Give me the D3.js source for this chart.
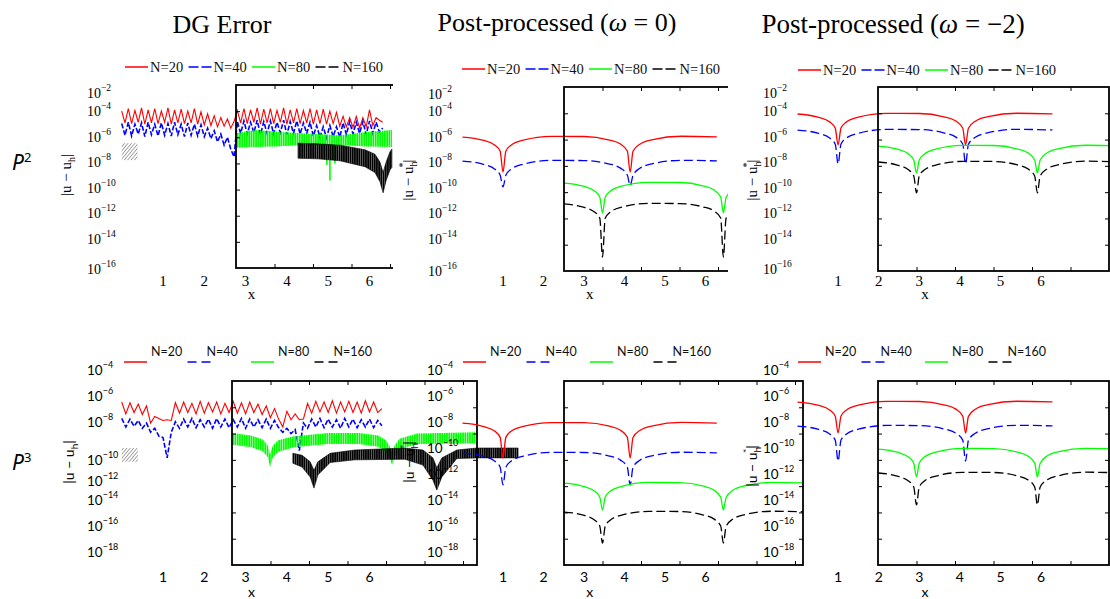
<!DOCTYPE html>
<html>
<head>
<meta charset="utf-8">
<script src="https://cdn.jsdelivr.net/npm/d3@7"></script>
<style>
  body { margin: 0; background: #fff; }
  svg { display: block; }
  .serif { font-family: "Liberation Serif", "Times New Roman", serif; }
  .sans { font-family: Lato, "Open Sans", sans-serif; }
</style>
</head>
<body>
<svg id="fig" width="1110" height="599"></svg>
<script>
// ---- data ----
const seriesNames = ["N=20", "N=40", "N=80", "N=160"];
const seriesColors = ["#ff0000", "#0000ff", "#00ff00", "#000000"];
const panelTitles = ["DG Error", "Post-processed (", "Post-processed ("];
const omegaValues = ["0", "−2"];
const xTicks = [1, 2, 3, 4, 5, 6];
const yTicksTop = [-2, -4, -6, -8, -10, -12, -14, -16];
const yTicksBottom = [-4, -6, -8, -10, -12, -14, -16, -18];

// DG error, P2 (values are log10 of the error)
const dgP2Grid = [0,0.08,0.16,0.24,0.32,0.4,0.48,0.56,0.64,0.72,0.8,0.88,0.96,1.04,1.12,1.2,1.28,1.36,1.44,1.52,
  1.6,1.68,1.76,1.84,1.92,2,2.08,2.16,2.24,2.32,2.4,2.48,2.56,2.64,2.72,2.8,2.88,2.96,3.04,3.12,
  3.2,3.28,3.36,3.44,3.52,3.6,3.68,3.76,3.84,3.92,4,4.08,4.16,4.24,4.32,4.4,4.48,4.56,4.64,4.72,
  4.8,4.88,4.96,5.04,5.12,5.2,5.28,5.36,5.44,5.52,5.6,5.68,5.76,5.84,5.92,6,6.08,6.16,6.24,6.32];
const dgP2N20 = [-4.0,-4.9,-3.8,-4.95,-3.95,-4.85,-3.75,-5.0,-3.9,-4.9,-3.8,-4.95,-4.0,-4.85,-3.75,-5.0,-3.9,-4.9,-3.85,-4.95,
  -4.0,-4.9,-3.8,-5.0,-4.05,-5.05,-4.2,-5.1,-4.35,-5.2,-4.5,-5.15,-4.6,-5.3,-4.8,
  -3.95,-4.9,-3.8,-4.95,-3.9,-4.85,-3.75,-5.0,-3.85,-4.9,-3.8,-4.95,-3.95,-4.85,-3.75,-5.0,-3.9,-4.9,-3.8,-4.95,
  -3.95,-4.9,-3.8,-5.0,-3.9,-4.95,-3.85,-5.0,-4.0,-4.95,-4.1,
  -5.15,-4.4,-5.2,-4.5,-5.25,-4.4,-5.3,-4.5,-5.2,-3.9,-5.1,-4.5,-4.7,-4.85];
const dgP2N40 = [-4.95,-5.85,-4.85,-5.9,-5.0,-5.75,-4.9,-5.95,-4.85,-5.8,-5.0,-5.9,-4.9,-5.85,-4.95,-5.9,-4.85,-5.8,-5.0,-5.95,-4.9,-5.85,-5.0,-5.9,-5.05,
  -5.95,-5.3,-6.1,-5.5,-6.35,-5.75,-6.6,-6.0,-6.9,-7.5,
  -4.8,-5.7,-4.75,-5.75,-4.85,-5.65,-4.7,-5.8,-4.8,-5.7,-4.75,-5.75,-4.85,-5.65,-4.7,-5.8,-4.8,-5.7,-4.75,-5.75,-4.9,-5.7,-4.85,
  -5.9,-5.1,-6.0,-5.2,-6.05,-5.1,-5.95,-5.2,-6.0,
  -4.9,-5.8,-4.8,-5.75,-4.85,-5.7,-4.8,-5.8,-4.75,-5.7,-4.85,-5.6,-5.3];
// bands: [x, upper, lower]
const dgP2N80Band = [[0,-5.7,-6.8],[0.5,-5.45,-6.75],[1.0,-5.55,-6.7],[1.7,-5.7,-6.6],[2.7,-5.85,-6.6],[3.4,-5.6,-6.7],[4.05,-5.45,-6.75]];
const dgP2N80Spikes = [[2.36,-6.6,-8.1],[2.44,-6.6,-9.3],[2.57,-6.6,-8.0]];
const dgP2N160Band = [[1.61,-6.45,-7.6],[2.13,-6.5,-7.65],[2.7,-6.6,-7.8],[3.35,-6.95,-8.25],[3.61,-7.3,-8.7],
  [3.74,-7.9,-9.4],[3.82,-8.7,-10.25],[3.9,-7.9,-9.3],[4.0,-7.1,-8.5],[4.05,-6.9,-8.3]];
const dgP2Hatch = [[0,-6.45],[0.38,-7.75]];

// DG error, P3
const dgP3Grid = [0,0.1,0.2,0.3,0.4,0.5,0.6,0.7,0.8,0.9,1,1.1,1.2,1.3,1.4,1.5,1.6,1.7,1.8,1.9,
  2,2.1,2.2,2.3,2.4,2.5,2.6,2.7,2.8,2.9,3,3.1,3.2,3.3,3.4,3.5,3.6,3.7,3.8,3.9,
  4,4.1,4.2,4.3,4.4,4.5,4.6,4.7,4.8,4.9,5,5.1,5.2,5.3,5.4,5.5,5.6,5.7,5.8,5.9,6,6.1,6.2,6.3];
const dgP3N20 = [-5.6,-6.5,-5.65,-6.4,-5.75,-6.55,-5.9,-7.2,-6.7,-6.85,-7.0,-6.95,-7.0,
  -5.65,-6.45,-5.6,-6.4,-5.7,-6.5,-5.55,-6.45,-5.65,-6.35,-5.6,-6.5,-5.7,-6.4,-5.55,-6.45,-5.65,-6.5,-5.6,-6.4,-5.75,-6.55,
  -5.9,-6.8,-6.1,-6.9,-7.5,-6.3,-6.95,-6.5,-6.95,-6.9,
  -5.7,-6.45,-5.55,-6.35,-5.6,-6.4,-5.5,-6.45,-5.6,-6.35,-5.55,-6.4,-5.6,-6.45,-5.5,-6.35,-5.6,-6.4,-6.1];
const dgP3N40 = [-6.85,-7.5,-6.9,-7.45,-7.0,-7.6,-7.2,-7.9,-7.6,-8.2,-8.3,-9.85,-7.9,-7.1,
  -7.6,-6.9,-7.5,-6.85,-7.55,-6.95,-7.5,-6.9,-7.6,-6.85,-7.5,-6.9,-7.55,-6.95,-7.5,-6.85,-7.6,-6.9,-7.5,-6.95,-7.55,-6.9,-7.6,-7.0,-7.55,
  -7.9,-7.6,-8.0,-7.7,-9.3,-7.2,-7.6,
  -6.9,-7.5,-6.85,-7.55,-6.9,-7.5,-6.95,-7.6,-6.85,-7.5,-6.9,-7.55,-6.95,-7.5,-6.9,-7.55,-7.0,-7.4];
const dgP3N80Band = [[0,-7.95,-8.85],[0.5,-8.15,-9.05],[0.8,-8.45,-9.35],[0.93,-8.9,-9.8],[0.99,-9.6,-10.55],[1.06,-8.9,-9.8],
  [1.2,-8.5,-9.4],[1.6,-8.2,-9.05],[2.5,-7.95,-8.8],[3.3,-7.95,-8.8],[3.8,-8.15,-9.0],[4.0,-8.5,-9.4],[4.1,-9.0,-9.9],
  [4.16,-9.5,-10.4],[4.22,-8.9,-9.8],[4.35,-8.4,-9.2],[4.8,-8.0,-8.8],[6.36,-7.9,-8.75]];
const dgP3N160Band = [[1.58,-9.5,-10.25],[1.82,-9.65,-10.55],[2.03,-10.15,-11.3],[2.13,-10.8,-12.15],[2.23,-10.15,-11.15],
  [2.55,-9.5,-10.2],[3.19,-9.25,-10.0],[4.49,-9.1,-9.95],[4.96,-9.25,-10.4],[5.22,-9.85,-11.55],[5.32,-10.6,-12.3],
  [5.45,-9.85,-11.3],[5.84,-9.25,-9.9],[6.36,-9.1,-9.85],[7.43,-9.1,-9.85]];
const dgP3Hatch = [[0,-9.1],[0.39,-10.15]];

// post-processed errors (log10) on a shared x grid
const ppGrid = [0,0.5,0.8,0.93,1.0,1.07,1.2,1.5,2.2,3.0,3.6,3.9,4.07,4.14,4.21,4.38,4.7,5.4,6.28];
const ppW0P2N20  = [-5.98,-6.22,-6.6,-7.06,-8.66,-7.06,-6.6,-6.22,-5.93,-5.94,-6.19,-6.52,-7.05,-8.66,-7.07,-6.53,-6.18,-5.92,-5.97];
const ppW0P2N40  = [-7.82,-8.06,-8.44,-8.9,-9.8,-8.9,-8.44,-8.06,-7.77,-7.78,-8.03,-8.36,-8.89,-9.7,-8.91,-8.37,-8.02,-7.76,-7.81];
const ppW0P2N80  = [-9.5,-9.74,-10.12,-10.58,-11.79,-10.58,-10.12,-9.74,-9.45,-9.46,-9.71,-10.04,-10.57,-11.79,-10.59,-10.05,-9.7,-9.44,-9.49];
const ppW0P2N160 = [-11.1,-11.35,-11.73,-12.19,-15.16,-12.19,-11.73,-11.35,-11.06,-11.07,-11.32,-11.65,-12.18,-15.16,-12.2,-11.66,-11.31,-11.05,-11.1];
const ppWm2P2N20  = [-4.22,-4.46,-4.84,-5.3,-6.59,-5.3,-4.84,-4.46,-4.17,-4.18,-4.43,-4.76,-5.29,-6.59,-5.31,-4.77,-4.42,-4.16,-4.21];
const ppWm2P2N40  = [-5.45,-5.69,-6.07,-6.53,-8.04,-6.53,-6.07,-5.69,-5.4,-5.41,-5.66,-5.99,-6.52,-8.04,-6.54,-6.0,-5.65,-5.39,-5.44];
const ppWm2P2N80  = [-6.67,-6.91,-7.29,-7.75,-8.73,-7.75,-7.29,-6.91,-6.62,-6.63,-6.88,-7.21,-7.74,-8.73,-7.76,-7.22,-6.87,-6.61,-6.66];
const ppWm2P2N160 = [-7.89,-8.13,-8.51,-8.97,-10.26,-8.97,-8.51,-8.13,-7.84,-7.85,-8.1,-8.43,-8.96,-10.26,-8.98,-8.44,-8.09,-7.83,-7.88];
const ppW0P3N20  = [-7.21,-7.45,-7.83,-8.29,-9.86,-8.29,-7.83,-7.45,-7.16,-7.17,-7.42,-7.75,-8.28,-9.86,-8.3,-7.76,-7.41,-7.15,-7.2];
const ppW0P3N40  = [-9.48,-9.72,-10.1,-10.56,-11.91,-10.56,-10.1,-9.72,-9.43,-9.44,-9.69,-10.02,-10.55,-11.91,-10.57,-10.03,-9.68,-9.42,-9.47];
const ppW0P3N80  = [-11.77,-12.01,-12.39,-12.85,-13.82,-12.85,-12.39,-12.01,-11.72,-11.73,-11.98,-12.31,-12.84,-13.82,-12.86,-12.32,-11.97,-11.71,-11.76];
const ppW0P3N160 = [-13.97,-14.21,-14.59,-15.05,-16.33,-15.05,-14.59,-14.21,-13.92,-13.93,-14.18,-14.51,-15.04,-16.33,-15.06,-14.52,-14.17,-13.91,-13.96];
const ppWm2P3N20  = [-5.6,-5.84,-6.22,-6.68,-7.96,-6.68,-6.22,-5.84,-5.55,-5.56,-5.81,-6.14,-6.67,-7.96,-6.69,-6.15,-5.8,-5.54,-5.59];
const ppWm2P3N40  = [-7.43,-7.67,-8.05,-8.51,-10.09,-8.51,-8.05,-7.67,-7.38,-7.39,-7.64,-7.97,-8.5,-10.09,-8.52,-7.98,-7.63,-7.37,-7.42];
const ppWm2P3N80  = [-9.18,-9.42,-9.8,-10.26,-11.3,-10.26,-9.8,-9.42,-9.13,-9.14,-9.39,-9.72,-10.25,-11.3,-10.27,-9.73,-9.38,-9.12,-9.17];
const ppWm2P3N160 = [-11.0,-11.24,-11.62,-12.08,-13.43,-12.08,-11.62,-11.24,-10.95,-10.96,-11.21,-11.54,-12.07,-13.43,-12.09,-11.55,-11.2,-10.94,-10.99];

// ---- layout ----
const svg = d3.select("#fig");
const defs = svg.append("defs");

// dense oscillations are drawn as striped bands
const gStripe = defs.append("pattern").attr("id", "gStripe")
  .attr("patternUnits", "userSpaceOnUse").attr("width", 2.3).attr("height", 10);
gStripe.append("rect").attr("width", 1.8).attr("height", 10).attr("fill", "#00ff00");

const kStripe = defs.append("pattern").attr("id", "kStripe")
  .attr("patternUnits", "userSpaceOnUse").attr("width", 2.2).attr("height", 10);
kStripe.append("rect").attr("width", 1.9).attr("height", 10).attr("fill", "#000");

const hatch = defs.append("pattern").attr("id", "hatch")
  .attr("patternUnits", "userSpaceOnUse").attr("width", 2.6).attr("height", 2.6)
  .attr("patternTransform", "rotate(40)");
hatch.append("line").attr("x1", 0).attr("y1", 0).attr("x2", 0).attr("y2", 2.6)
  .attr("stroke", "#333").attr("stroke-width", 1.1);

const BOX_UNIT = 38.5;
const yRow = [
  d3.scaleLog().domain([1e-2, 1e-16]).range([85, 268]),
  d3.scaleLog().domain([1e-4, 1e-18]).range([381, 565])
];
const yLab = [
  d3.scaleLog().domain([1e-4, 1e-14]).range([111, 238.5]),
  d3.scaleLog().domain([1e-4, 1e-18]).range([370, 552])
];
const colX = [[121.7, 41.3], [462.5, 40.5], [797.5, 40.6]];
const outerX = col => d3.scaleLinear().domain([0, 1]).range([colX[col][0], colX[col][0] + colX[col][1]]);
const boxX = p => d3.scaleLinear().domain([0, 1]).range([p.box[0], p.box[0] + BOX_UNIT]);
const E = v => Math.pow(10, v);

const panels = [
  { row: 0, col: 0, box: [236, 85, 242, 183], right: false, bg: null, labX: 87, ylab: [71, 175], legend: [125, 67], nudge: { "-2": 7, "-16": 5 }, star: false, title: [222, 33, 26] },
  { row: 0, col: 1, box: [564, 87, 242, 184], right: false, bg: 393, labX: 428, ylab: [413, 180], legend: [462, 69], nudge: { "-2": 8, "-16": 7 }, star: true, title: [557, 31, 26] },
  { row: 0, col: 2, box: [878, 87, 231, 184], right: true, bg: 728, labX: 763, ylab: [757, 180], legend: [798, 70], nudge: { "-2": 7, "-16": 5 }, star: true, title: [893, 33, 27] },
  { row: 1, col: 0, box: [232, 381, 245, 184], right: true, bg: null, labX: 87, ylab: [74, 462], legend: [124, 362], nudge: { "-10": 12, "-12": 7 }, star: false },
  { row: 1, col: 1, box: [564, 381, 239, 184], right: true, bg: null, labX: 427, ylab: [414, 462], legend: [463, 362], nudge: {}, star: true },
  { row: 1, col: 2, box: [878, 381, 231, 184], right: true, bg: null, labX: 763, ylab: [757, 466], legend: [798, 362], nudge: {}, star: true }
];

const ppSets = {
  "0,1": [ppW0P2N20, ppW0P2N40, ppW0P2N80, ppW0P2N160],
  "0,2": [ppWm2P2N20, ppWm2P2N40, ppWm2P2N80, ppWm2P2N160],
  "1,1": [ppW0P3N20, ppW0P3N40, ppW0P3N80, ppW0P3N160],
  "1,2": [ppWm2P3N20, ppWm2P3N40, ppWm2P3N80, ppWm2P3N160]
};
const dgSets = [
  { grid: dgP2Grid, n20: dgP2N20, n40: dgP2N40, n80: dgP2N80Band, spikes: dgP2N80Spikes, n160: dgP2N160Band, hatch: dgP2Hatch },
  { grid: dgP3Grid, n20: dgP3N20, n40: dgP3N40, n80: dgP3N80Band, spikes: [], n160: dgP3N160Band, hatch: dgP3Hatch }
];

function drawBox(g, p) {
  const [L, T, Wb, Hb] = p.box;
  const bx = boxX(p);
  const by = d3.scaleLinear().domain([0, 7]).range([T, T + Hb]);
  const xt = xTicks.filter(v => bx(v) < L + Wb - 2);
  const blank = () => "";
  g.append("g").attr("transform", `translate(0,${T})`)
    .call(d3.axisTop(bx).tickValues(xt).tickSize(-4).tickFormat(blank));
  g.append("g").attr("transform", `translate(0,${T + Hb})`)
    .call(d3.axisBottom(bx).tickValues(xt).tickSize(-4).tickFormat(blank));
  g.append("g").attr("transform", `translate(${L},0)`)
    .call(d3.axisLeft(by).tickValues([1, 2, 3, 4, 5, 6]).tickSize(-4).tickFormat(blank));
  if (p.right) {
    g.append("g").attr("transform", `translate(${L + Wb},0)`)
      .call(d3.axisRight(by).tickValues([1, 2, 3, 4, 5, 6]).tickSize(-4).tickFormat(blank));
  }
  g.selectAll(".domain").remove();
  g.selectAll(".tick line").attr("stroke", "#000").attr("stroke-width", 1);
  g.append("rect").attr("x", L).attr("y", T).attr("width", Wb).attr("height", Hb)
    .attr("fill", "none").attr("stroke", "#000").attr("stroke-width", 1.8);
}

function drawTexts(g, p) {
  const top = p.row === 0;
  const font = top ? "serif" : "sans";
  const ox = outerX(p.col);

  // y tick labels
  const ls = yLab[p.row];
  g.selectAll("text.ytl").data(top ? yTicksTop : yTicksBottom).join("text")
    .attr("class", "ytl " + font)
    .attr("x", p.labX)
    .attr("y", e => ls(E(e)) + (p.nudge[e] || 0) + 5)
    .attr("font-size", top ? 14 : 13.5)
    .each(function (e) {
      const t = d3.select(this);
      t.append("tspan").text("10");
      t.append("tspan").attr("dy", -7).attr("font-size", top ? 9.5 : 9).text("−" + (-e));
    });

  // x tick labels
  const base = top ? 286 : 582;
  g.selectAll("text.xtl").data(xTicks).join("text")
    .attr("class", "xtl " + font)
    .attr("x", v => ox(v)).attr("y", base)
    .attr("text-anchor", "middle").attr("font-size", top ? 15 : 14)
    .text(v => v);
  g.append("text").attr("class", font)
    .attr("x", ox(Math.PI)).attr("y", top ? 299 : 597)
    .attr("text-anchor", "middle").attr("font-size", top ? 15 : 14).text("x");

  // y axis label
  const yl = g.append("text").attr("class", font)
    .attr("transform", `translate(${p.ylab[0]},${p.ylab[1]}) rotate(-90)`)
    .attr("text-anchor", "middle").attr("font-size", top ? 15 : 14);
  yl.append("tspan").text("|u − u");
  yl.append("tspan").attr("dy", 4).attr("font-size", 10).text("h");
  if (p.star) {
    yl.append("tspan").attr("dx", -6).attr("dy", -11).attr("font-size", 10).text("*");
    yl.append("tspan").attr("dy", 7).text("|");
  } else {
    yl.append("tspan").attr("dy", -4).text("|");
  }

  // legend
  const [lx, ly] = p.legend;
  const textOff = top ? [25, 25, 25, 27] : [27, 19, 27, 19];
  seriesNames.forEach((name, i) => {
    const x = lx + 63.5 * i;
    g.append("line").attr("x1", x).attr("x2", x + 23).attr("y1", ly).attr("y2", ly)
      .attr("stroke", seriesColors[i]).attr("stroke-width", 1.5)
      .attr("stroke-dasharray", i % 2 ? (top ? "10,3" : "9,5") : null);
    g.append("text").attr("class", font)
      .attr("x", x + textOff[i]).attr("y", top ? ly + 5 : ly - 6)
      .attr("font-size", top ? 14.5 : 12.5).attr("fill", "#111").text(name);
  });
}

function drawDG(g, p) {
  const d = dgSets[p.row];
  const ox = outerX(p.col), bx = boxX(p), y = yRow[p.row];
  g.append("rect")
    .attr("x", ox(d.hatch[0][0])).attr("y", y(E(d.hatch[0][1])))
    .attr("width", ox(d.hatch[1][0]) - ox(d.hatch[0][0]))
    .attr("height", y(E(d.hatch[1][1])) - y(E(d.hatch[0][1])))
    .attr("fill", "url(#hatch)").attr("opacity", 0.8);

  const line = d3.line().x(v => ox(v[0])).y(v => y(E(v[1])));
  g.append("path").datum(d3.zip(d.grid, d.n20)).attr("d", line)
    .attr("fill", "none").attr("stroke", seriesColors[0]).attr("stroke-width", 1.1);
  g.append("path").datum(d3.zip(d.grid, d.n40)).attr("d", line)
    .attr("fill", "none").attr("stroke", seriesColors[1]).attr("stroke-width", 1.6)
    .attr("stroke-dasharray", "5,2");

  const band = d3.area().x(v => bx(v[0])).y0(v => y(E(v[1]))).y1(v => y(E(v[2])));
  g.append("path").datum(d.n80).attr("d", band).attr("fill", "url(#gStripe)");
  g.selectAll("line.spike").data(d.spikes).join("line").attr("class", "spike")
    .attr("x1", v => bx(v[0])).attr("x2", v => bx(v[0]))
    .attr("y1", v => y(E(v[1]))).attr("y2", v => y(E(v[2])))
    .attr("stroke", seriesColors[2]).attr("stroke-width", 1.6);
  g.append("path").datum(d.n160).attr("d", band)
    .attr("fill", "url(#kStripe)").attr("stroke", "#000").attr("stroke-width", 0.6);
}

function drawPP(g, p, idx) {
  const curves = ppSets[p.row + "," + p.col];
  const ox = outerX(p.col), bx = boxX(p), y = yRow[p.row];
  const clipId = "clip" + idx;
  defs.append("clipPath").attr("id", clipId).append("rect")
    .attr("x", p.box[0]).attr("y", 0).attr("width", p.box[2]).attr("height", 599);
  curves.forEach((vals, i) => {
    const sx = i < 2 ? ox : bx;
    const line = d3.line().x(v => sx(v[0])).y(v => y(E(v[1]))).curve(d3.curveMonotoneX);
    g.append("path").datum(d3.zip(ppGrid, vals)).attr("d", line)
      .attr("clip-path", i < 2 ? null : `url(#${clipId})`)
      .attr("fill", "none").attr("stroke", seriesColors[i]).attr("stroke-width", 1.3)
      .attr("stroke-dasharray", i % 2 ? "9,4" : null);
  });
}

panels.forEach((p, idx) => {
  const g = svg.append("g");
  if (p.bg !== null) {
    g.append("rect").attr("x", p.bg).attr("y", 42).attr("width", 1110 - p.bg).attr("height", 266).attr("fill", "#fff");
  }
  if (p.title) {
    const t = g.append("text").attr("class", "serif")
      .attr("x", p.title[0]).attr("y", p.title[1]).attr("text-anchor", "middle")
      .attr("font-size", p.title[2]);
    t.append("tspan").text(panelTitles[p.col]);
    if (p.col > 0) {
      t.append("tspan").attr("font-style", "italic").text("ω");
      t.append("tspan").text(" = " + omegaValues[p.col - 1] + ")");
    }
  }
  drawTexts(g, p);
  if (p.col === 0) drawDG(g, p); else drawPP(g, p, idx);
  drawBox(g, p);
});

// row labels
[["2", 170], ["3", 470]].forEach(([k, yb]) => {
  const t = svg.append("text").attr("x", 12).attr("y", yb)
    .attr("font-family", "'Noto Sans', 'Open Sans', sans-serif").attr("font-size", 21);
  t.append("tspan").attr("font-style", "italic").text("P");
  t.append("tspan").attr("dy", -8).attr("font-size", 13).text(k);
});
</script>
</body>
</html>
